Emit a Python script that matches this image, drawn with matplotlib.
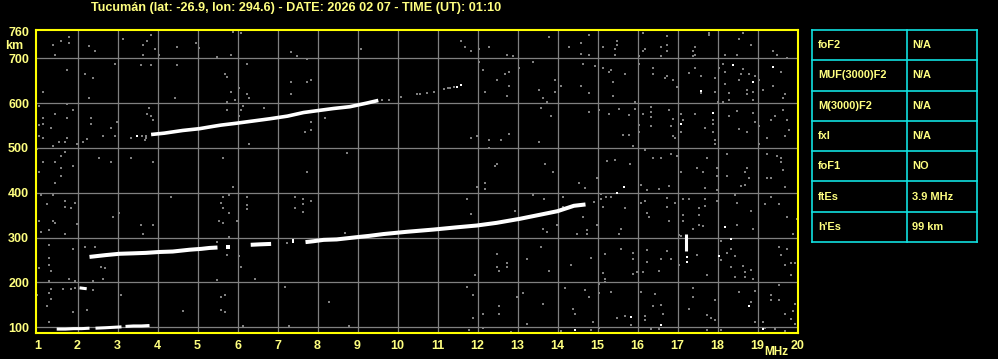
import matplotlib
matplotlib.use("Agg")
from matplotlib import pyplot as plt

plt.rcParams["font.family"] = ["Liberation Sans", "DejaVu Sans"]

# ionogram axes
freq_ticks = list(range(1, 21))
km_ticks = [100, 200, 300, 400, 500, 600, 700, 760]

# first-hop F trace (MHz, km), split where the echo breaks up
f_trace = [
    ([2.30, 2.70, 3.05, 3.40, 3.71, 4.05, 4.38, 4.80, 5.10, 5.30, 5.50],
     [257, 261, 264, 265, 266, 268, 269, 273, 275, 277, 278]),
    ([5.72, 5.80], [279, 279]),
    ([6.33, 6.55, 6.84], [284, 285, 286]),
    ([7.36, 7.42], [292, 292]),
    ([7.70, 7.90, 8.15, 8.48, 8.98, 9.30, 9.65, 10.23, 10.90, 11.48, 11.98,
      12.48, 13.06, 13.56, 14.00, 14.41, 14.70],
     [290, 292, 295, 296, 301, 304, 308, 313, 318, 323, 327,
      333, 342, 351, 359, 371, 374]),
]
# second-hop F trace
f2_trace = [
    ([3.84, 4.17, 4.63, 5.05, 5.38, 5.59, 5.96, 6.38, 6.80, 7.25, 7.65,
      7.98, 8.40, 8.81, 9.23, 9.52],
     [530, 533, 539, 543, 548, 551, 555, 560, 565, 571, 579,
      583, 588, 592, 600, 606]),
]
# sporadic E trace
es_trace = [
    ([1.48, 1.70, 1.90, 2.10, 2.30], [96, 96, 97, 97, 98]),
    ([2.45, 2.70, 2.90, 3.10], [98, 99, 100, 101]),
    ([3.20, 3.40, 3.60, 3.80], [102, 103, 103, 104]),
    ([2.05, 2.23], [188, 186]),
    ([17.20, 17.20], [271, 307]),
]

# faint echo tails (grey) and single bright dots
f_tail = [(14.91, 379), (15.08, 387), (15.20, 391), (9.60, 608), (9.78, 607),
          (10.08, 614), (10.48, 620), (10.56, 620), (10.73, 622), (10.90, 624),
          (11.15, 632), (11.25, 633), (11.31, 634), (11.40, 635), (3.60, 526),
          (3.70, 527), (3.72, 522)]
bright_dots = [(15.48, 400), (15.66, 412), (11.48, 637), (11.58, 640),
               (3.48, 527), (17.23, 256), (17.23, 246), (18.18, 324),
               (18.33, 296), (18.03, 260), (15.83, 123), (16.58, 106),
               (18.78, 148), (19.13, 97), (14.43, 95), (17.58, 628),
               (18.39, 686), (18.88, 647), (19.38, 681), (17.88, 579),
               (17.08, 553)]

noise = [
    (1.78, 748), (1.59, 739), (1.38, 730), (1.78, 735), (1.44, 707), (2.28, 728),
    (2.44, 716), (3.13, 743), (3.84, 752), (3.74, 739), (3.63, 730), (3.94, 721),
    (3.63, 707), (4.03, 707), (4.95, 735), (5.03, 722), (5.88, 759), (6.08, 756),
    (5.49, 703), (5.84, 707), (4.48, 726), (2.94, 687), (1.74, 674), (2.19, 665),
    (2.38, 655), (1.13, 625), (2.28, 612), (3.59, 684), (3.84, 684), (4.48, 684),
    (6.23, 687), (5.69, 665), (5.74, 658), (6.03, 634), (5.84, 625), (6.23, 620),
    (6.28, 612), (4.44, 612), (5.94, 607), (5.74, 603), (1.03, 594), (1.74, 598),
    (1.88, 585), (1.44, 576), (1.13, 567), (1.03, 551), (1.13, 553), (1.74, 567),
    (1.34, 545), (2.34, 567), (2.34, 553), (2.84, 545), (2.98, 558), (2.63, 527),
    (2.94, 527), (1.13, 522), (1.03, 527), (1.74, 522), (2.24, 521), (2.13, 513),
    (1.54, 513), (1.69, 513), (1.38, 504), (1.98, 509), (3.78, 589), (3.74, 576),
    (3.84, 571), (3.89, 562), (3.34, 522), (3.69, 518), (3.34, 478), (3.89, 469),
    (2.84, 469), (2.53, 478), (1.59, 482), (1.69, 491), (1.13, 469), (1.44, 469),
    (1.59, 455), (1.59, 437), (1.88, 460), (1.03, 446), (0.98, 497), (5.63, 478),
    (6.28, 509), (6.13, 594), (6.08, 585), (6.67, 589), (6.03, 571), (5.73, 585),
    (7.33, 713), (7.48, 704), (7.73, 699), (9.08, 721), (7.34, 647), (7.34, 621),
    (7.73, 647), (7.83, 652), (11.58, 739), (11.68, 726), (11.84, 716), (12.04, 721),
    (12.29, 726), (12.73, 707), (12.88, 704), (13.38, 692), (12.04, 692), (12.13, 674),
    (13.03, 678), (12.78, 669), (12.68, 665), (12.48, 652), (12.78, 638), (12.18, 625),
    (12.73, 616), (13.53, 629), (13.63, 612), (13.58, 589), (7.83, 558), (7.83, 540),
    (7.68, 536), (8.18, 567), (8.73, 489), (7.73, 446), (11.84, 522), (11.98, 527),
    (12.29, 518), (12.58, 518), (12.78, 531), (12.29, 500), (13.53, 513), (12.48, 464),
    (12.43, 460), (13.79, 748), (14.29, 726), (14.58, 735), (14.79, 752), (14.73, 762),
    (14.58, 710), (14.79, 707), (15.14, 726), (15.48, 739), (15.48, 730), (15.43, 721),
    (15.43, 707), (16.14, 757), (16.14, 716), (16.19, 721), (16.58, 726), (16.73, 750),
    (16.73, 730), (16.73, 716), (16.58, 704), (16.04, 704), (17.78, 757), (17.78, 752),
    (17.43, 726), (17.38, 716), (17.43, 707), (17.38, 704), (18.64, 757), (18.54, 743),
    (18.83, 730), (18.19, 707), (18.48, 707), (19.38, 716), (19.48, 707), (19.73, 701),
    (14.64, 687), (14.94, 683), (13.94, 652), (14.08, 638), (13.94, 625), (14.58, 638),
    (14.79, 623), (13.73, 603), (15.14, 678), (15.33, 674), (15.28, 669), (15.68, 665),
    (15.38, 647), (15.38, 616), (16.04, 687), (16.39, 678), (16.39, 665), (16.73, 661),
    (16.68, 656), (16.88, 652), (16.98, 637), (17.29, 667), (17.43, 678), (17.58, 661),
    (17.58, 623), (17.93, 656), (17.93, 625), (18.03, 678), (18.14, 687), (18.19, 669),
    (18.19, 643), (18.29, 623), (18.29, 607), (18.54, 652), (18.64, 677), (18.59, 665),
    (18.78, 665), (18.93, 661), (18.73, 629), (18.73, 620), (18.88, 625), (18.88, 607),
    (19.03, 652), (19.13, 629), (19.38, 638), (19.58, 669), (19.68, 620), (19.63, 612),
    (18.01, 603), (18.14, 603), (15.93, 603), (13.83, 571), (14.79, 580), (15.04, 585),
    (15.28, 576), (15.53, 587), (15.78, 574), (15.93, 587), (15.64, 529), (15.78, 529),
    (15.88, 504), (16.04, 551), (16.04, 536), (16.14, 576), (16.33, 591), (16.33, 580),
    (16.33, 569), (16.33, 549), (16.78, 585), (16.88, 565), (16.83, 549), (16.88, 527),
    (16.93, 522), (17.08, 576), (17.13, 562), (17.08, 536), (17.43, 576), (17.68, 545),
    (17.88, 562), (17.88, 553), (17.88, 536), (17.93, 518), (17.93, 509), (18.29, 571),
    (18.48, 582), (18.54, 542), (18.73, 536), (18.88, 579), (18.93, 559), (19.03, 549),
    (19.03, 509), (19.33, 562), (19.43, 571), (19.63, 585), (19.73, 562), (19.78, 540),
    (19.68, 527), (19.23, 522), (13.69, 464), (13.89, 446), (14.98, 433), (15.23, 472),
    (15.43, 473), (15.81, 464), (16.19, 496), (16.39, 478), (16.58, 478), (16.83, 487),
    (16.98, 481), (17.08, 446), (17.48, 455), (17.63, 446), (17.73, 478), (17.98, 455),
    (17.98, 437), (18.23, 487), (18.23, 437), (18.73, 455), (18.68, 446), (18.78, 433),
    (19.23, 487), (19.23, 433), (19.33, 433), (19.48, 482), (19.58, 478), (19.58, 469),
    (19.63, 451), (1.44, 422), (1.09, 396), (1.38, 396), (1.24, 374), (1.69, 382),
    (1.69, 368), (1.83, 365), (1.94, 377), (1.03, 338), (1.38, 338), (1.44, 333),
    (1.09, 313), (1.28, 316), (1.69, 308), (1.98, 330), (2.88, 347), (3.03, 356),
    (3.59, 329), (3.88, 329), (3.63, 307), (4.33, 391), (5.88, 413), (5.78, 396),
    (5.63, 391), (5.59, 377), (5.63, 365), (5.78, 355), (5.53, 338), (5.63, 333),
    (6.23, 391), (6.23, 373), (6.23, 364), (5.98, 338), (5.78, 302), (1.28, 283),
    (1.28, 255), (1.28, 240), (1.34, 226), (1.03, 232), (1.28, 204), (1.88, 275),
    (2.19, 280), (2.43, 280), (2.58, 234), (2.68, 232), (2.63, 208), (2.38, 204),
    (1.78, 208), (1.94, 204), (5.48, 290), (5.73, 262), (6.03, 258), (6.08, 234),
    (7.23, 288), (6.43, 208), (5.48, 205), (1.34, 186), (1.63, 186), (1.83, 186),
    (1.94, 188), (2.38, 184), (1.28, 177), (1.34, 164), (1.24, 148), (3.09, 173),
    (2.23, 139), (1.88, 134), (1.28, 112), (4.63, 137), (5.59, 168), (5.69, 173),
    (5.59, 139), (5.69, 134), (7.18, 190), (6.13, 103), (7.28, 103), (0.98, 171),
    (7.44, 391), (7.63, 387), (7.63, 374), (7.63, 357), (7.84, 382), (7.44, 365),
    (11.73, 387), (11.83, 353), (11.98, 413), (12.19, 422), (12.19, 409), (13.38, 396),
    (12.93, 359), (12.48, 264), (12.73, 244), (12.73, 234), (12.48, 234), (12.53, 226),
    (13.23, 252), (13.58, 279), (13.63, 319), (11.94, 217), (11.73, 190), (11.88, 172),
    (12.13, 130), (11.88, 121), (12.53, 148), (12.53, 130), (13.13, 176), (12.98, 168),
    (13.23, 107), (13.63, 152), (8.29, 156), (8.78, 103), (11.79, 94), (12.13, 98),
    (12.83, 90), (8.69, 310), (14.54, 422), (14.68, 411), (13.66, 387), (14.14, 391),
    (14.14, 368), (13.73, 313), (13.98, 329), (14.64, 347), (14.73, 317), (14.73, 307),
    (14.48, 307), (14.98, 329), (15.08, 397), (15.14, 368), (15.33, 391), (15.68, 365),
    (15.58, 319), (15.54, 308), (16.08, 417), (16.23, 406), (16.08, 378), (16.18, 382),
    (16.23, 356), (16.29, 347), (16.54, 409), (16.73, 388), (16.73, 368), (16.78, 415),
    (16.93, 377), (16.78, 338), (17.13, 387), (17.13, 350), (17.13, 338), (17.28, 387),
    (17.53, 365), (17.53, 350), (17.53, 329), (17.38, 319), (17.63, 326), (17.68, 411),
    (17.68, 387), (17.68, 370), (17.98, 406), (17.98, 382), (18.43, 394), (18.48, 377),
    (18.58, 415), (18.68, 418), (18.83, 360), (18.48, 329), (18.88, 319), (19.18, 374),
    (19.33, 391), (19.53, 374), (19.68, 414), (19.73, 347), (19.98, 342), (19.88, 307),
    (17.03, 306), (17.08, 303), (13.78, 226), (14.33, 240), (14.83, 255), (15.18, 264),
    (15.13, 222), (15.18, 208), (15.18, 201), (15.03, 197), (15.58, 275), (15.88, 266),
    (15.88, 252), (15.88, 219), (15.98, 223), (16.13, 223), (16.23, 272), (16.23, 246),
    (16.58, 253), (16.73, 270), (16.83, 252), (16.54, 226), (17.03, 240), (17.48, 262),
    (17.73, 216), (18.08, 249), (18.08, 293), (18.33, 275), (18.23, 266), (18.43, 258),
    (18.33, 234), (18.63, 237), (18.68, 223), (18.83, 228), (18.68, 212), (18.43, 212),
    (18.88, 208), (19.53, 279), (19.58, 261), (19.73, 275), (19.68, 238), (19.83, 244),
    (19.93, 244), (19.83, 217), (14.18, 188), (14.68, 184), (14.78, 168), (14.38, 140),
    (14.43, 130), (14.88, 112), (15.03, 177), (15.33, 179), (15.48, 121), (15.68, 125),
    (15.83, 106), (16.08, 179), (16.18, 125), (16.18, 116), (16.38, 148), (16.43, 174),
    (16.58, 150), (16.63, 130), (16.33, 97), (16.53, 97), (17.28, 140), (17.38, 188),
    (17.38, 168), (17.73, 128), (17.83, 121), (17.93, 160), (17.93, 116), (18.08, 95),
    (18.53, 179), (18.83, 156), (18.93, 182), (18.93, 112), (19.13, 112), (19.18, 98),
    (19.33, 171), (19.33, 160), (19.53, 195), (19.53, 160), (19.68, 130), (19.88, 137),
    (19.93, 152), (19.83, 119), (19.93, 107), (19.43, 97), (19.68, 91), (14.08, 91),
    (14.83, 94), (15.03, 98), (17.73, 94),
]

title = "Tucumán (lat: -26.9, lon: 294.6) - DATE: 2026 02 07 - TIME (UT): 01:10"
param_names = ["foF2", "MUF(3000)F2", "M(3000)F2", "fxl", "foF1", "ftEs", "h'Es"]
param_values = ["N/A", "N/A", "N/A", "N/A", "NO", "3.9 MHz", "99 km"]

TXT = "#ffff80"
GREY = "#808080"
W, H = 998, 359

fig = plt.figure(figsize=(W / 100, H / 100), dpi=100, facecolor="black")
ax = fig.add_axes([36 / W, (H - 333) / H, (797.7 - 36) / W, (333 - 29.5) / H])
ax.set_facecolor("black")
ax.set_xlim(0.9625, 20.005)
ax.set_ylim(87.3, 764.2)

for f in freq_ticks[1:-1]:
    ax.axvline(f, color=GREY, lw=0.9, zorder=1)
for h in km_ticks[:-1]:
    ax.axhline(h, color=GREY, lw=0.9, zorder=1)

ax.scatter([p[0] for p in noise], [p[1] for p in noise], marker="s", s=2.2,
           color=GREY, linewidths=0, zorder=2)
ax.scatter([p[0] for p in f_tail], [p[1] for p in f_tail], marker="s", s=3.5,
           color=GREY, linewidths=0, zorder=2)

for xs, ys in f_trace:
    ax.plot(xs, ys, color="white", lw=2.9, solid_capstyle="butt", zorder=3)
for xs, ys in f2_trace:
    ax.plot(xs, ys, color="white", lw=2.6, solid_capstyle="butt", zorder=3)
for xs, ys in es_trace:
    ax.plot(xs, ys, color="white", lw=2.2, solid_capstyle="butt", zorder=3)
ax.scatter([p[0] for p in bright_dots], [p[1] for p in bright_dots], marker="s",
           s=3.5, color="white", linewidths=0, zorder=3)

for s in ax.spines.values():
    s.set_color("#ffff00")
    s.set_linewidth(1.5)

ax.set_xticks(freq_ticks)
ax.set_xticklabels([str(f) for f in freq_ticks])
ax.set_yticks(km_ticks)
ax.set_yticklabels([str(h) for h in km_ticks])
ax.tick_params(length=0, colors=TXT, labelsize=9, pad=5)
for lab in ax.get_xticklabels() + ax.get_yticklabels():
    lab.set_fontweight("bold")
    lab.set_color(TXT)

fig.text(5 / W, 1 - 46 / H, "km", color=TXT, fontsize=9, fontweight="bold",
         va="center", ha="left")
fig.text(764 / W, 1 - 352 / H, "MHz", color=TXT, fontsize=8.5, fontweight="bold",
         va="center", ha="left")
fig.text(91 / W, 1 - 8 / H, title, color=TXT, fontsize=9.1, fontweight="bold",
         va="center", ha="left")

# parameter table
tb = fig.add_axes([812 / W, (H - 242) / H, (977 - 812) / W, 212 / H])
tb.set_facecolor("black")
tb.set_xlim(0, 165)
tb.set_ylim(len(param_names), 0)
tb.axis("off")
CY = "#10e0e0"
n = len(param_names)
for i in range(n + 1):
    tb.plot([0, 165], [i, i], color=CY, lw=1.2, clip_on=False)
for x in (0, 95, 165):
    tb.plot([x, x], [0, n], color=CY, lw=1.2, clip_on=False)
for i, (nm, val) in enumerate(zip(param_names, param_values)):
    tb.text(6, i + 0.5, nm, color=TXT, fontsize=7.9, fontweight="bold", va="center")
    tb.text(100, i + 0.5, val, color=TXT, fontsize=7.9, fontweight="bold", va="center")

fig.savefig("out.png", dpi=100, facecolor="black")
